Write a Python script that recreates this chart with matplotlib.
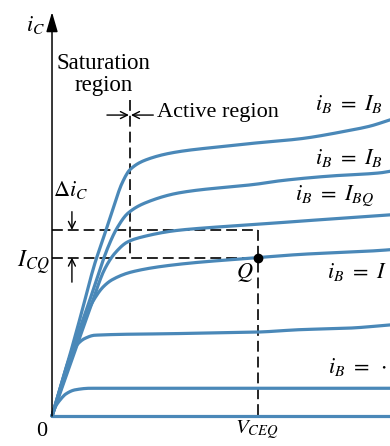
import matplotlib.pyplot as plt
import numpy as np

plt.rcParams['font.family'] = ['Liberation Serif', 'DejaVu Serif']
plt.rcParams['mathtext.fontset'] = 'stix'

# output characteristics, v_CE in V and i_C in mA, one list pair per base current
v_top = [0, 0.52, 0.82, 1.25, 1.46, 1.75, 2.04, 2.27, 2.71, 3.58, 4.89, 6.00, 7.22, 8.59, 9.26, 9.85]
i_top = [0, 0.77, 1.24, 1.93, 2.20, 2.58, 2.94, 3.11, 3.23, 3.33, 3.40, 3.45, 3.50, 3.60, 3.66, 3.74]

v_2 = [0, 0.52, 1.05, 1.63, 1.89, 2.21, 2.71, 3.73, 6.00, 6.64, 8.10, 9.55, 9.85]
i_2 = [0, 0.74, 1.40, 2.13, 2.37, 2.56, 2.69, 2.82, 2.93, 2.97, 3.03, 3.07, 3.09]

v_3 = [0, 0.52, 1.11, 1.54, 1.84, 2.21, 2.71, 3.58, 4.31, 6.00, 7.22, 9.55, 9.85]
i_3 = [0, 0.64, 1.36, 1.86, 2.06, 2.20, 2.27, 2.34, 2.37, 2.42, 2.46, 2.53, 2.54]

v_q = [0, 0.52, 0.96, 1.25, 1.49, 1.75, 2.33, 3.58, 6.00, 7.22, 9.55, 9.85]
i_q = [0, 0.68, 1.24, 1.49, 1.63, 1.72, 1.82, 1.91, 2.00, 2.04, 2.09, 2.10]

v_5 = [0, 0.29, 0.52, 0.73, 0.96, 1.25, 3.58, 6.00, 7.22, 8.68, 9.85]
i_5 = [0, 0.43, 0.74, 0.90, 0.98, 1.02, 1.04, 1.06, 1.09, 1.11, 1.15]

v_6 = [0, 0.09, 0.23, 0.41, 0.67, 1.11, 3.58, 6.00, 9.85]
i_6 = [0, 0.11, 0.20, 0.28, 0.33, 0.35, 0.35, 0.35, 0.35]

v_0 = [0, 9.85]
i_0 = [0, 0]

curves = [(v_top, i_top), (v_2, i_2), (v_3, i_3), (v_q, i_q), (v_5, i_5), (v_6, i_6), (v_0, i_0)]

labels = [r'$i_B\ =\ I_B$', r'$i_B\ =\ I_B$', r'$i_B\ =\ I_{BQ}$', r'$i_B\ =\ I$', r'$i_B\ =\ \cdot$']
label_x = [7.66, 7.66, 7.08, 8.01, 8.04]
label_y = [3.94, 3.26, 2.77, 1.82, 0.62]

V_CEQ = 6.0
I_CQ = 2.0
I_C_hi = 2.35      # I_CQ + delta i_C
v_sat = 2.27       # edge between saturation and active region

blue = '#4a88b8'


def smooth(x, y, n=300):
    # monotone cubic (pchip) so the knees come out round without overshoot
    x = np.asarray(x, float)
    y = np.asarray(y, float)
    if len(x) < 3:
        return x, y
    h = np.diff(x)
    delta = np.diff(y) / h
    d = np.zeros_like(x)
    for k in range(1, len(x) - 1):
        if delta[k - 1] * delta[k] > 0:
            w1 = 2 * h[k] + h[k - 1]
            w2 = h[k] + 2 * h[k - 1]
            d[k] = (w1 + w2) / (w1 / delta[k - 1] + w2 / delta[k])
    d[0] = delta[0]
    d[-1] = delta[-1]
    xs = np.linspace(x[0], x[-1], n)
    k = np.clip(np.searchsorted(x, xs) - 1, 0, len(x) - 2)
    t = (xs - x[k]) / h[k]
    h00 = 2 * t**3 - 3 * t**2 + 1
    h10 = t**3 - 2 * t**2 + t
    h01 = -2 * t**3 + 3 * t**2
    h11 = t**3 - t**2
    ys = h00 * y[k] + h10 * h[k] * d[k] + h01 * y[k + 1] + h11 * h[k] * d[k + 1]
    return xs, ys


fig = plt.figure(figsize=(3.9, 4.46), dpi=100)
ax = fig.add_axes([0, 0, 1, 1])
ax.set_xlim(-1.515, 9.845)
ax.set_ylim(-0.379, 5.253)
ax.axis('off')

for v, i in curves:
    xs, ys = smooth(v, i)
    ax.plot(xs, ys, color=blue, lw=2.3, solid_capstyle='round', zorder=3)

# vertical axis with arrow
ax.annotate('', xy=(0, 5.10), xytext=(0, 0),
            arrowprops=dict(arrowstyle='-|>,head_length=1.2,head_width=0.35', color='black', lw=1.1,
                            shrinkA=0, shrinkB=0))

dash = dict(color='black', lw=1.2, linestyle=(0, (6.5, 3)), zorder=2)
ax.plot([v_sat, v_sat], [3.99, I_CQ], **dash)
ax.plot([0, V_CEQ], [I_C_hi, I_C_hi], **dash)
ax.plot([0, V_CEQ], [I_CQ, I_CQ], **dash)
ax.plot([V_CEQ, V_CEQ], [I_C_hi, 0], **dash)

ax.plot([V_CEQ], [I_CQ], 'o', color='black', ms=6, zorder=4)

arrow = dict(arrowstyle='->,head_length=0.5,head_width=0.25', color='black', lw=1.0, shrinkA=0, shrinkB=0)
ax.annotate('', xy=(0.58, I_C_hi), xytext=(0.58, 2.58), arrowprops=arrow)
ax.annotate('', xy=(0.58, I_CQ), xytext=(0.58, 1.69), arrowprops=arrow)
ax.annotate('', xy=(v_sat - 0.03, 3.80), xytext=(1.60, 3.80), arrowprops=arrow)
ax.annotate('', xy=(v_sat + 0.03, 3.80), xytext=(2.95, 3.80), arrowprops=arrow)

fs = 16
ax.text(-0.48, 4.94, r'$i_C$', fontsize=fs, ha='center', va='center')
ax.text(1.50, 4.31, 'Saturation\nregion', fontsize=16.5, ha='center', va='center', linespacing=1.1)
ax.text(3.06, 3.83, 'Active region', fontsize=fs, ha='left', va='center')
ax.text(0.55, 2.85, r'$\Delta i_C$', fontsize=fs, ha='center', va='center')
ax.text(-0.55, 1.94, r'$I_{CQ}$', fontsize=17, ha='center', va='center')
ax.text(5.62, 1.81, r'$Q$', fontsize=fs, ha='center', va='center')
ax.text(5.97, -0.175, r'$V_{CEQ}$', fontsize=15, ha='center', va='center')
ax.text(-0.29, -0.20, '0', fontsize=fs, ha='center', va='center')

for txt, x, y in zip(labels, label_x, label_y):
    ax.text(x, y, txt, fontsize=fs, ha='left', va='center')

fig.savefig('out.png', dpi=100)
